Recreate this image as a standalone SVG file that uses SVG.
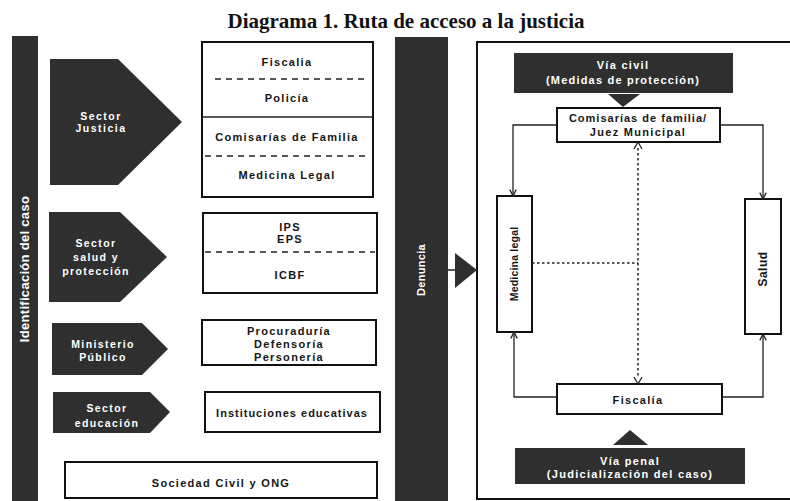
<svg xmlns="http://www.w3.org/2000/svg" width="790" height="501" viewBox="0 0 790 501">
<style>
.dark{fill:#2f2f2f}
.box{fill:#fff;stroke:#111;stroke-width:2}
.t{font-family:"Liberation Sans",Arial,sans-serif;font-weight:bold;font-size:11px;letter-spacing:1.3px;fill:#161616;text-anchor:middle}
.w{fill:#fff}
.div{stroke:#222;stroke-width:1.5}
.dash{stroke:#222;stroke-width:1.5;stroke-dasharray:6 5}
.con{fill:none;stroke:#222;stroke-width:1.3}
.dot{fill:none;stroke:#222;stroke-width:1.5;stroke-dasharray:2.5 2.5}
</style>
<defs>
<marker id="ah" viewBox="0 0 10 10" refX="9" refY="5" markerWidth="8" markerHeight="8" orient="auto" markerUnits="userSpaceOnUse">
<path d="M1,1 L9,5 L1,9" fill="none" stroke="#222" stroke-width="1.6"/>
</marker>
</defs>
<rect width="790" height="501" fill="#fff"/>
<text x="406" y="28" text-anchor="middle" font-family="Liberation Serif,'Times New Roman',serif" font-weight="bold" font-size="21" fill="#111">Diagrama 1. Ruta de acceso a la justicia</text>

<g id="identificacion">
<rect class="dark" x="12" y="36" width="26" height="465"/>
<text class="t w" transform="translate(29,269) rotate(-90)" style="font-size:13px;letter-spacing:0.3px">Identificación del caso</text>
</g>

<g id="sector-justicia">
<polygon class="dark" points="50,59 118,59 182,122 118,185 50,185"/>
<text class="t w" x="101" y="120" style="font-size:10.5px;letter-spacing:1.5px">Sector</text>
<text class="t w" x="101" y="132" style="font-size:10.5px;letter-spacing:1.5px">Justicia</text>
</g>
<g id="box-justicia">
<rect class="box" x="202" y="42" width="171" height="155"/>
<line class="dash" x1="215" y1="79" x2="365" y2="79"/>
<line class="div" x1="202" y1="117" x2="373" y2="117"/>
<line class="dash" x1="205" y1="156" x2="370" y2="156"/>
<text class="t" x="287" y="66">Fiscalia</text>
<text class="t" x="287" y="102">Policía</text>
<text class="t" x="287" y="141">Comisarías de Familia</text>
<text class="t" x="287" y="179">Medicina Legal</text>
</g>

<g id="sector-salud">
<polygon class="dark" points="49,212 120,212 167,257 120,302 49,302"/>
<text class="t w" x="96" y="247" style="font-size:10.5px;letter-spacing:1.4px">Sector</text>
<text class="t w" x="96" y="261" style="font-size:10.5px;letter-spacing:1.4px">salud y</text>
<text class="t w" x="96" y="275" style="font-size:10.5px;letter-spacing:1.4px">protección</text>
</g>
<g id="box-salud">
<rect class="box" x="203" y="213" width="174" height="80"/>
<line class="dash" x1="205" y1="252" x2="375" y2="252"/>
<text class="t" x="290" y="231">IPS</text>
<text class="t" x="290" y="243">EPS</text>
<text class="t" x="290" y="279">ICBF</text>
</g>

<g id="ministerio">
<polygon class="dark" points="52,323 142,323 168,349 142,375 52,375"/>
<text class="t w" x="103" y="348" style="font-size:10.5px;letter-spacing:1.4px">Ministerio</text>
<text class="t w" x="103" y="361" style="font-size:10.5px;letter-spacing:1.4px">Público</text>
</g>
<g id="box-ministerio">
<rect class="box" x="202" y="320" width="174" height="45"/>
<text class="t" x="289" y="335">Procuraduría</text>
<text class="t" x="289" y="348">Defensoría</text>
<text class="t" x="289" y="361">Personería</text>
</g>

<g id="sector-educacion">
<polygon class="dark" points="53,392 150,392 170,412 150,433 53,433"/>
<text class="t w" x="107" y="412" style="font-size:10.5px;letter-spacing:1.4px">Sector</text>
<text class="t w" x="107" y="427" style="font-size:10.5px;letter-spacing:1.4px">educación</text>
</g>
<g id="box-educacion">
<rect class="box" x="205" y="392" width="175" height="40"/>
<text class="t" x="292" y="417" style="letter-spacing:1px">Instituciones educativas</text>
</g>

<g id="sociedad">
<rect class="box" x="65" y="462" width="312" height="36"/>
<text class="t" x="221" y="487">Sociedad Civil y ONG</text>
</g>

<g id="denuncia">
<rect class="dark" x="395" y="37" width="53" height="464"/>
<text class="t w" transform="translate(425,270) rotate(-90)" style="letter-spacing:0.3px">Denuncia</text>
</g>

<g id="ruta">
<rect x="477" y="42" width="318" height="457" fill="#fff" stroke="#111" stroke-width="2"/>
</g>

<g id="via-civil">
<rect class="dark" x="514" y="53" width="219" height="40"/>
<text class="t w" x="623" y="69">Vía civil</text>
<text class="t w" x="623" y="84" style="letter-spacing:1.2px">(Medidas de protección)</text>
</g>
<g id="comisarias">
<rect class="box" x="557" y="108" width="163" height="34"/>
<text class="t" x="638" y="122" style="letter-spacing:1px">Comisarías de familia/</text>
<text class="t" x="638" y="136">Juez Municipal</text>
</g>
<g id="medicina-legal">
<rect class="box" x="497" y="196" width="35" height="136"/>
<text class="t" transform="translate(518,264) rotate(-90)" style="font-size:10.5px;letter-spacing:0.2px">Medicina legal</text>
</g>
<g id="salud">
<rect class="box" x="745" y="199" width="36" height="135"/>
<text class="t" transform="translate(767,269) rotate(-90)" style="font-size:12px;letter-spacing:0.5px">Salud</text>
</g>
<g id="fiscalia">
<rect class="box" x="557" y="384" width="165" height="30"/>
<text class="t" x="638" y="404">Fiscalía</text>
</g>
<g id="via-penal">
<rect class="dark" x="515" y="448" width="230" height="36"/>
<text class="t w" x="630" y="465">Vía penal</text>
<text class="t w" x="630" y="478">(Judicialización del caso)</text>
</g>

<g id="connectors">
<line x1="448" y1="270" x2="457" y2="270" stroke="#222" stroke-width="1.5"/>
<polygon class="dark" points="455,253 477,270 455,288"/>
<polygon class="dark" points="608,94 640,94 623,107"/>
<polygon class="dark" points="613,445 648,445 630,430"/>
<path class="con" d="M557,125 H513 V196" marker-end="url(#ah)"/>
<path class="con" d="M720,125 H763 V199" marker-end="url(#ah)"/>
<path class="con" d="M557,397 H514 V332" marker-end="url(#ah)"/>
<path class="con" d="M722,397 H763 V334" marker-end="url(#ah)"/>
<path class="dot" d="M638,148 V378"/>
<path class="con" d="M634,149 L638,142 L642,149"/>
<path class="con" d="M634,377 L638,384 L642,377"/>
<path class="dot" d="M532,263 H638"/>
</g>
</svg>
